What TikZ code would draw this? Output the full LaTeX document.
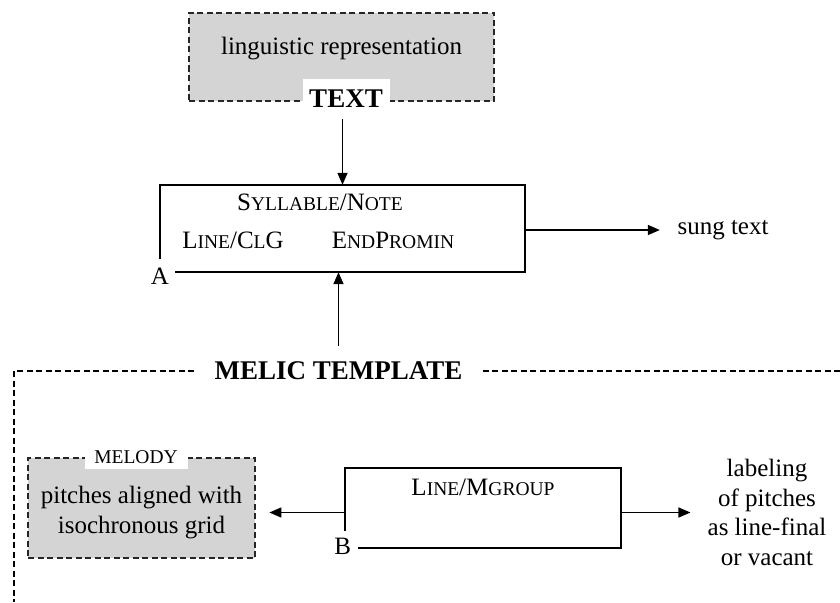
\documentclass[tikz,border=0pt]{standalone}
\usepackage{fontspec}
\setmainfont{Liberation Serif}
\usetikzlibrary{arrows.meta}

\definecolor{boxgray}{RGB}{212,212,212}
\newcommand\smallcap[1]{{\fontsize{19.5}{22}\selectfont\MakeUppercase{#1}}}

\begin{document}
\begin{tikzpicture}[
	x=1pt, y=-1pt,
	every node/.style={
		font=\fontsize{25}{29.5}\selectfont
	},
	graybox/.style={
		rectangle,
		draw=black!85,
		line width=1.6pt,
		dash pattern=on 6pt off 3.5pt,
		fill=boxgray,
		inner sep=0pt
	},
	openbox/.style={
		rectangle,
		inner sep=0pt
	},
	tag/.style={
		rectangle,
		fill=white,
		inner sep=0pt,
		align=center
	},
	bold/.style={
		font=\fontsize{27}{31}\selectfont\bfseries
	},
	frame/.style={
		line width=1.6pt,
		dash pattern=on 6pt off 3.5pt
	},
	edge/.style={
		line width=1.8pt
	},
	arr/.style={
		line width=1.6pt,
		-{Triangle[length=12pt,width=10pt]}
	},
]
\useasboundingbox (0,0) rectangle (840,602);

% Text
\node[graybox, minimum width=305, minimum height=88] (ling) at (341.5,57) {};
\node (lingtext) at (341.5,49) {linguistic representation};
\node[tag, bold, minimum width=87, minimum height=40] (text) at (346,99) {TEXT};

% Syllable box
\node[openbox, minimum width=365, minimum height=87] (boxA) at (342.5,228.5) {};
\draw[edge] ([yshift=13pt]boxA.south west) -- (boxA.north west) -- (boxA.north east)
	-- (boxA.south east) -- ([xshift=15pt]boxA.south west);
\node (cornerA) at ([yshift=-4pt]boxA.south west) {A};
\node (syl) at (320,202) {S\smallcap{yllable}/N\smallcap{ote}};
\node (clg) at (233,240) {L\smallcap{ine}/C\smallcap{l}G};
\node (endp) at (393,240) {E\smallcap{nd}P\smallcap{romin}};

\node[inner xsep=17.5pt] (sung) at (723,230) {sung text};

\draw[arr] (boxA.north |- text.south) -- (boxA.north);
\draw[arr] (boxA.east |- sung.west) -- (sung.west);

% Melic template
\node[bold, inner xsep=20pt, minimum height=50] (melic) at (338.5,371) {MELIC TEMPLATE};
\coordinate (frameL) at (14,602);
\coordinate (frameR) at (840,371);
\draw[frame] (melic.west) -- (frameL |- melic.west) -- (frameL);
\draw[frame] (melic.east) -- (frameR);
\draw[arr] (melic.north) -- (melic.north |- boxA.south);

% Melody
\node[graybox, minimum width=227, minimum height=100] (melody) at (141.5,508) {};
\node[tag, minimum width=103, minimum height=24] (melodytag) at (136,457) {\smallcap{melody}};
\node[align=center, inner xsep=27pt] (pitches) at (141.5,512.5) {pitches aligned with\\isochronous grid};

% Line/Mgroup box
\node[openbox, minimum width=276, minimum height=79] (boxB) at (483,508) {};
\draw[edge] ([yshift=16.5pt]boxB.south west) -- (boxB.north west) -- (boxB.north east)
	-- (boxB.south east) -- ([xshift=13pt]boxB.south west);
\node (cornerB) at ([xshift=-2pt,yshift=1.5pt]boxB.south west) {B};
\node (mgroup) at (483,487) {L\smallcap{ine}/M\smallcap{group}};

\node[align=center, inner xsep=17pt] (labeling) at (767,512.5) {labeling\\of pitches\\as line-final\\or vacant};

\draw[arr] (boxB.west |- pitches.east) -- (pitches.east);
\draw[arr] (boxB.east |- labeling.west) -- (labeling.west);

\end{tikzpicture}
\end{document}
